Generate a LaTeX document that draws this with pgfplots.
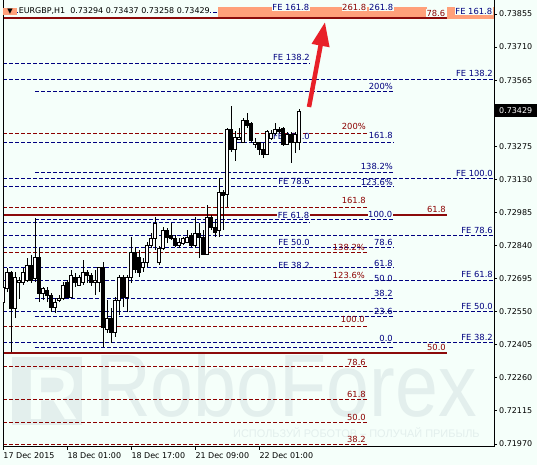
\documentclass[border=0pt]{standalone}
\usepackage{graphicx}
\usepackage{pgfplots}
\pgfplotsset{compat=1.18}
\usepackage{pgfplotstable}
\usetikzlibrary{arrows.meta}
\usepackage{fontspec}
\setmainfont{DejaVu Sans}
\newfontfamily\wmfont{Liberation Sans}

\definecolor{bg}{RGB}{245,255,250}
\definecolor{fibblue}{RGB}{0,0,128}
\definecolor{fibred}{RGB}{140,0,0}
\definecolor{thickred}{RGB}{140,10,10}
\definecolor{salmonc}{RGB}{255,160,122}
\definecolor{wm}{RGB}{227,239,237}
\definecolor{arrowred}{RGB}{232,32,40}

\pgfplotstableread{
i O H L C
0 0.72592 0.72667 0.72535 0.72654
1 0.72650 0.72742 0.72636 0.72724
2 0.72724 0.72729 0.72373 0.72566
3 0.72566 0.72724 0.72522 0.72702
4 0.72680 0.72702 0.72606 0.72689
5 0.72680 0.72742 0.72667 0.72720
6 0.72689 0.72785 0.72680 0.72751
7 0.72751 0.72798 0.72676 0.72689
8 0.72694 0.72961 0.72680 0.72789
9 0.72789 0.72829 0.72592 0.72632
10 0.72632 0.72658 0.72601 0.72650
11 0.72641 0.72658 0.72592 0.72619
12 0.72619 0.72632 0.72548 0.72570
13 0.72570 0.72610 0.72544 0.72592
14 0.72597 0.72623 0.72592 0.72610
15 0.72606 0.72680 0.72601 0.72667
16 0.72676 0.72689 0.72610 0.72614
17 0.72614 0.72733 0.72610 0.72707
18 0.72702 0.72720 0.72658 0.72676
19 0.72667 0.72711 0.72663 0.72698
20 0.72676 0.72777 0.72667 0.72720
21 0.72720 0.72733 0.72676 0.72707
22 0.72707 0.72720 0.72663 0.72680
23 0.72680 0.72733 0.72623 0.72689
24 0.72680 0.72746 0.72636 0.72742
25 0.72742 0.72768 0.72395 0.72479
26 0.72474 0.72601 0.72457 0.72522
27 0.72522 0.72566 0.72413 0.72457
28 0.72457 0.72614 0.72439 0.72601
29 0.72601 0.72711 0.72535 0.72698
30 0.72698 0.72711 0.72570 0.72614
31 0.72614 0.72711 0.72548 0.72702
32 0.72698 0.72877 0.72676 0.72811
33 0.72811 0.72833 0.72720 0.72733
34 0.72789 0.72820 0.72702 0.72724
35 0.72742 0.72785 0.72724 0.72764
36 0.72764 0.72855 0.72746 0.72842
37 0.72842 0.72895 0.72829 0.72873
38 0.72873 0.72965 0.72820 0.72935
39 0.72764 0.72838 0.72755 0.72825
40 0.72825 0.72921 0.72820 0.72904
41 0.72908 0.72917 0.72851 0.72877
42 0.72886 0.72939 0.72864 0.72873
43 0.72873 0.72886 0.72833 0.72842
44 0.72842 0.72873 0.72829 0.72855
45 0.72851 0.72877 0.72842 0.72869
46 0.72855 0.72908 0.72851 0.72877
47 0.72882 0.72895 0.72833 0.72842
48 0.72842 0.72965 0.72829 0.72895
49 0.72895 0.72939 0.72785 0.72877
50 0.72877 0.72908 0.72798 0.72803
51 0.72803 0.73018 0.72798 0.72961
52 0.72961 0.72974 0.72908 0.72921
53 0.72921 0.72952 0.72877 0.72899
54 0.72908 0.73136 0.72877 0.73074
55 0.73074 0.73083 0.72908 0.73061
56 0.73066 0.73355 0.73009 0.73351
57 0.73351 0.73452 0.73250 0.73259
58 0.73259 0.73342 0.73211 0.73315
59 0.73303 0.73355 0.73303 0.73315
60 0.73294 0.73399 0.73290 0.73390
61 0.73390 0.73421 0.73355 0.73368
62 0.73377 0.73381 0.73290 0.73299
63 0.73281 0.73311 0.73268 0.73290
64 0.73290 0.73294 0.73237 0.73259
65 0.73259 0.73290 0.73224 0.73241
66 0.73241 0.73346 0.73237 0.73338
67 0.73311 0.73346 0.73303 0.73333
68 0.73333 0.73377 0.73325 0.73351
69 0.73351 0.73360 0.73333 0.73338
70 0.73355 0.73360 0.73277 0.73281
71 0.73285 0.73338 0.73281 0.73325
72 0.73329 0.73338 0.73202 0.73294
73 0.73294 0.73338 0.73246 0.73329
74 0.73294 0.73437 0.73258 0.73429
}\candles

\pgfplotsset{
  chartbase/.style={
    at={(3bp,18bp)}, anchor=south west, scale only axis,
    width=491bp, height=447bp,
    xmin=-0.075, xmax=122.675, ymin=0.719567, ymax=0.739164,
    clip mode=individual,
  },
  bl/.style={fibblue, line width=0.9bp, dash pattern=on 3.5bp off 2.5bp, mark=none},
  rl/.style={fibred, line width=0.9bp, dash pattern=on 3.5bp off 2.5bp, mark=none},
  tl/.style={thickred, line width=2.7bp, solid, mark=none},
  wick/.style={black, line width=0.9bp, solid, mark=none},
  body/.style={draw=black, line width=0.9bp, solid, mark=none},
}
\tikzset{
  lb/.style={anchor=east, inner sep=0pt, text=fibblue, font=\fontsize{8.4}{9}\selectfont},
  lr/.style={anchor=east, inner sep=0pt, text=fibred, font=\fontsize{8.4}{9}\selectfont},
  lbg/.style={fill=bg, inner sep=0.6bp},
}

\begin{document}
\begin{tikzpicture}[x=1bp,y=1bp]
\fill[bg] (0,0) rectangle (537,465);
% watermark (pixel coordinates, y downward)
\begin{scope}[shift={(0,465)}, y=-1bp]
  \fill[wm] (12,357) rectangle (82,425);
  \node[anchor=base, inner sep=0pt, text=bg, font=\wmfont\bfseries\fontsize{72}{72}\selectfont] at (52,420) {R};
  \node[anchor=base west, inner sep=0pt, text=wm] at (95,417)
    {\scalebox{0.87}[1]{\wmfont\fontsize{89}{89}\selectfont RoboForex}};
  \node[anchor=west, inner sep=0pt, text=wm, font=\wmfont\fontsize{11}{12}\selectfont] at (233,433)
    {ИСПОЛЬЗУЙ РОБОТОВ – ПОЛУЧАЙ ПРИБЫЛЬ};
\end{scope}

% axis A: levels, ticks and frame
\begin{axis}[chartbase,
  axis x line*=bottom, axis y line*=right,
  axis line style={black, line width=1bp, -},
  xtick={0,16,32,48,64},
  xticklabels={17 Dec 2015,18 Dec 01:00,18 Dec 17:00,21 Dec 09:00,22 Dec 01:00},
  ytick={0.71970,0.72115,0.72260,0.72405,0.72550,0.72695,0.72840,0.72985,0.73130,0.73275,0.73565,0.73710,0.73855},
  yticklabels={0.71970,0.72115,0.72260,0.72405,0.72550,0.72695,0.72840,0.72985,0.73130,0.73275,0.73565,0.73710,0.73855},
  scaled x ticks=false, scaled y ticks=false,
  tick align=outside, major tick length=3bp,
  tick style={black, line width=0.8bp},
  ticklabel style={font=\fontsize{8}{9}\selectfont, text=black, inner sep=0pt},
  xticklabel style={anchor=north west, xshift=0bp, yshift=-2bp},
  yticklabel style={anchor=west, xshift=2bp},
  /pgf/number format/assume math mode=true,
]
% FE set (left)
\addplot[bl] coordinates {(-0.075,0.73862) (97.43,0.73862)};
\addplot[bl] coordinates {(-0.075,0.73640) (76.68,0.73640)};
\addplot[bl] coordinates {(-0.075,0.73294) (97.43,0.73294)};
\addplot[bl] coordinates {(-0.075,0.73097) (97.43,0.73097)};
\addplot[bl] coordinates {(-0.075,0.72939) (76.68,0.72939)};
\addplot[bl] coordinates {(-0.075,0.72833) (97.43,0.72833)};
\addplot[bl] coordinates {(-0.075,0.72742) (97.43,0.72742)};
% percent set
\addplot[bl] coordinates {(7.93,0.73517) (97.43,0.73517)};
\addplot[bl] coordinates {(7.93,0.73162) (97.43,0.73162)};
\addplot[bl] coordinates {(7.93,0.72956) (97.43,0.72956)};
\addplot[bl] coordinates {(7.93,0.72606) (97.43,0.72606)};
\addplot[bl] coordinates {(7.93,0.72527) (97.43,0.72527)};
\addplot[bl] coordinates {(7.93,0.72395) (97.43,0.72395)};
% red set
\addplot[rl] coordinates {(-0.075,0.73333) (90.93,0.73333)};
\addplot[rl] coordinates {(-0.075,0.73009) (90.93,0.73009)};
\addplot[rl] coordinates {(-0.075,0.72811) (90.93,0.72811)};
\addplot[rl] coordinates {(-0.075,0.72487) (90.93,0.72487)};
\addplot[rl] coordinates {(-0.075,0.72308) (90.93,0.72308)};
\addplot[rl] coordinates {(-0.075,0.72167) (90.93,0.72167)};
\addplot[rl] coordinates {(-0.075,0.72066) (90.93,0.72066)};
\addplot[rl] coordinates {(-0.075,0.71966) (90.93,0.71966)};
% FE set (full width)
\addplot[bl] coordinates {(-0.075,0.73570) (122.675,0.73570)};
\addplot[bl] coordinates {(-0.075,0.73132) (122.675,0.73132)};
\addplot[bl] coordinates {(-0.075,0.72882) (122.675,0.72882)};
\addplot[bl] coordinates {(-0.075,0.72685) (122.675,0.72685)};
\addplot[bl] coordinates {(-0.075,0.72553) (122.675,0.72553)};
\addplot[bl] coordinates {(-0.075,0.72413) (122.675,0.72413)};
% thick levels
\addplot[tl] coordinates {(-0.075,0.73837) (110.93,0.73837)};
\addplot[tl] coordinates {(-0.075,0.72974) (110.93,0.72974)};
\addplot[tl] coordinates {(-0.075,0.72369) (110.93,0.72369)};
\end{axis}

% labels (pixel coordinates)
\begin{scope}[shift={(0,465)}, y=-1bp]
  \draw[black, line width=1bp] (3,0) -- (3,447);
  \fill[salmonc] (218,7) rectangle (427,17);
  \fill[salmonc] (447,7) rectangle (494,19);
  \fill[salmonc] (3,8) rectangle (17,15.5);
  \node[inner sep=0pt, font=\fontsize{7}{7}\selectfont] at (10,11.5) {▼};
  \node[anchor=west, fill=bg, inner sep=0.6bp, font=\fontsize{8}{9}\selectfont] at (18,11)
    {EURGBP,H1\ \ 0.73294 0.73437 0.73258 0.73429};
  % blue labels
  \node[lb,lbg] at (310,7) {FE 161.8};
  \node[lb,lbg] at (394,7) {261.8};
  \node[lb,lbg] at (493,11) {FE 161.8};
  \node[lb] at (310,57) {FE 138.2};
  \node[lb] at (493,73) {FE 138.2};
  \node[lb] at (393,86) {200\%};
  \node[lb] at (393,135) {161.8};
  \node[lb] at (310,136) {FE 100.0};
  \node[lb] at (393,166) {138.2\%};
  \node[lb] at (493,173) {FE 100.0};
  \node[lb] at (310,181) {FE 78.6};
  \node[lb] at (393,182) {123.6\%};
  \node[lb,lbg] at (310,215) {FE 61.8};
  \node[lb,lbg] at (393,214) {100.0};
  \node[lb] at (493,230) {FE 78.6};
  \node[lb] at (310,242) {FE 50.0};
  \node[lb] at (393,242) {78.6};
  \node[lb] at (310,265) {FE 38.2};
  \node[lb] at (393,263) {61.8};
  \node[lb] at (393,278) {50.0};
  \node[lb] at (493,274) {FE 61.8};
  \node[lb] at (393,293) {38.2};
  \node[lb] at (393,311) {23.6};
  \node[lb] at (493,306) {FE 50.0};
  \node[lb] at (393,338) {0.0};
  \node[lb] at (493,337) {FE 38.2};
  % red labels
  \node[lr,lbg] at (367,7) {261.8};
  \node[lr,lbg] at (446,13) {78.6};
  \node[lr] at (366,126) {200\%};
  \node[lr] at (366,200) {161.8};
  \node[lr] at (446,209) {61.8};
  \node[lr] at (365,247) {138.2\%};
  \node[lr] at (365,275) {123.6\%};
  \node[lr] at (365,319) {100.0};
  \node[lr] at (446,347) {50.0};
  \node[lr] at (366,362) {78.6};
  \node[lr] at (366,394) {61.8};
  \node[lr] at (366,417) {50.0};
  \node[lr] at (366,439) {38.2};
\end{scope}

% axis B: candles
\begin{axis}[chartbase, hide axis]
\pgfplotsinvokeforeach{0,...,74}{%
  \pgfplotstablegetelem{#1}{O}\of\candles \edef\co{\pgfplotsretval}%
  \pgfplotstablegetelem{#1}{H}\of\candles \edef\ch{\pgfplotsretval}%
  \pgfplotstablegetelem{#1}{L}\of\candles \edef\cl{\pgfplotsretval}%
  \pgfplotstablegetelem{#1}{C}\of\candles \edef\cc{\pgfplotsretval}%
  \ifdim\cc pt<\co pt \edef\bodycol{black}\else\edef\bodycol{white}\fi
  \pgfmathsetmacro\xa{#1-0.38}%
  \pgfmathsetmacro\xb{#1+0.38}%
  \edef\doplot{\noexpand\addplot[wick] coordinates {(#1,\cl) (#1,\ch)};%
    \noexpand\addplot[body, fill=\bodycol] coordinates {(\xa,\co) (\xb,\co) (\xb,\cc) (\xa,\cc)} --cycle;}%
  \doplot
}
\end{axis}

% price box and arrow
\begin{scope}[shift={(0,465)}, y=-1bp]
  \node[anchor=west, fill=black, text=white, inner xsep=5bp, inner ysep=0pt,
        minimum height=13bp, font=\fontsize{8}{9}\selectfont] at (494,111) {0.73429};
  \draw[arrowred, line width=4.5bp, -{Triangle[length=24bp,width=17bp]}] (309,107) -- (325,22);
\end{scope}

\pgfresetboundingbox
\path[use as bounding box] (0,0) rectangle (537,465);
\end{tikzpicture}
\end{document}
